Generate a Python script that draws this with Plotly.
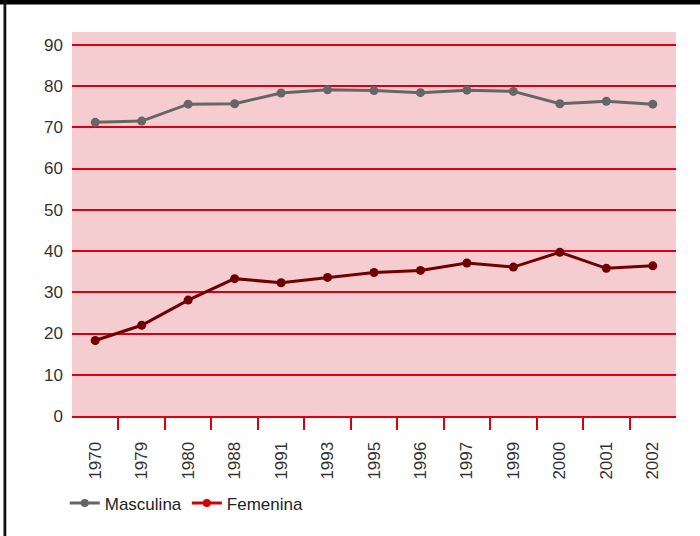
import plotly.graph_objects as go

years = ["1970", "1979", "1980", "1988", "1991", "1993", "1995", "1996",
         "1997", "1999", "2000", "2001", "2002"]
masculina = [71.2, 71.5, 75.6, 75.7, 78.3, 79.1, 78.9, 78.4, 79.0, 78.7, 75.7, 76.3, 75.6]
femenina = [18.3, 22.0, 28.1, 33.3, 32.3, 33.6, 34.8, 35.3, 37.1, 36.1, 39.7, 35.8, 36.4]
y_ticks = [0, 10, 20, 30, 40, 50, 60, 70, 80, 90]

GRAY = "#666666"
DARK_RED = "#700000"
RED = "#d90012"
PINK = "#f5cccf"
FONT = "Liberation Sans Narrow, Liberation Sans, Arial, sans-serif"

n = len(years)
boundaries = [i + 0.5 for i in range(n - 1)]

fig = go.Figure()
fig.add_trace(go.Scatter(x=years, y=masculina, mode="lines+markers", name="Masculina",
                         line=dict(color=GRAY, width=3), marker=dict(size=9, color=GRAY),
                         showlegend=False))
fig.add_trace(go.Scatter(x=years, y=femenina, mode="lines+markers", name="Femenina",
                         line=dict(color=DARK_RED, width=3), marker=dict(size=9, color=DARK_RED),
                         showlegend=False))
# legend entries (legend colours differ from plotted lines in the original)
fig.add_trace(go.Scatter(x=[None], y=[None], mode="lines+markers", name="Masculina",
                         line=dict(color=GRAY, width=3), marker=dict(size=8, color=GRAY)))
fig.add_trace(go.Scatter(x=[None], y=[None], mode="lines+markers", name="Femenina",
                         line=dict(color="#d40000", width=3), marker=dict(size=8, color="#d40000")))

fig.update_layout(
    width=700, height=536,
    margin=dict(l=72, r=24, t=32, b=120),
    paper_bgcolor="white",
    plot_bgcolor=PINK,
    font=dict(family=FONT, size=17, color="#333333"),
    showlegend=True,
    legend=dict(orientation="h", x=-0.012, xanchor="left", y=-0.228, yanchor="middle",
                font=dict(family=FONT, size=17, color="#222222"),
                bgcolor="rgba(0,0,0,0)", itemwidth=30, tracegroupgap=0),
    xaxis=dict(type="category", categoryorder="array", categoryarray=years,
               range=[-0.5, n - 0.5],
               showgrid=False, zeroline=False, showline=True, linecolor=RED, linewidth=2,
               ticks="", tickangle=-90, ticklabelstandoff=17,
               tickfont=dict(family=FONT, size=17, color="#333333")),
    xaxis2=dict(overlaying="x", anchor="y", side="bottom", range=[-0.5, n - 0.5],
                tickmode="array", tickvals=boundaries, showticklabels=False,
                ticks="outside", ticklen=13, tickcolor=RED, tickwidth=1.5,
                showgrid=False, zeroline=False, showline=False),
    yaxis=dict(range=[0, 93.1], tickvals=y_ticks, showgrid=True, gridcolor=RED, gridwidth=1.5,
               zeroline=False, showline=False, ticks="", ticklabelstandoff=8,
               tickfont=dict(family=FONT, size=17, color="#333333")),
    shapes=[
        dict(type="rect", xref="paper", yref="paper", xsizemode="pixel", ysizemode="pixel",
             xanchor=0, yanchor=1, x0=-80, x1=640, y0=27.5, y1=40,
             fillcolor="black", line=dict(width=0), layer="above"),
        dict(type="rect", xref="paper", yref="paper", xsizemode="pixel", ysizemode="pixel",
             xanchor=0, yanchor=1, x0=-68.5, x1=-65.7, y0=-520, y1=40,
             fillcolor="#111111", line=dict(width=0), layer="above"),
    ],
)
# dummy invisible trace so xaxis2 is rendered
fig.add_trace(go.Scatter(x=[None], y=[None], xaxis="x2", yaxis="y", showlegend=False,
                         hoverinfo="skip"))

fig.write_html("out.html", config={"displayModeBar": False},
               post_script="document.body.style.margin='0';")
